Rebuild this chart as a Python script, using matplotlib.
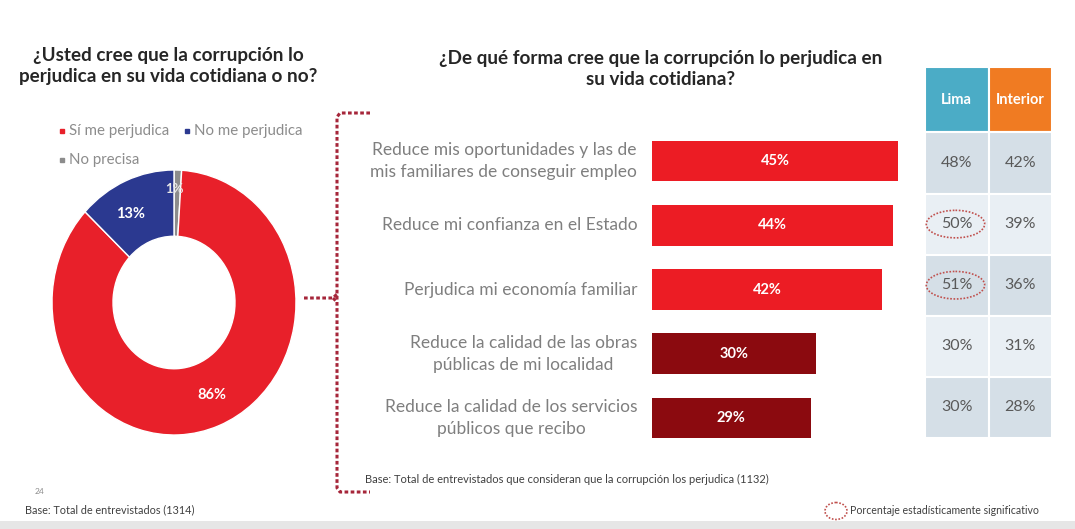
import matplotlib
matplotlib.use("Agg")
import matplotlib.pyplot as plt
from matplotlib.patches import Rectangle, Ellipse

plt.rcParams['font.family'] = ['Lato', 'DejaVu Sans']

# pie data
pie_labels = ['Sí me perjudica', 'No me perjudica', 'No precisa']
pie_values = [86, 13, 1]
pie_colors = ['#E8202A', '#2B3990', '#8C8C8C']

# bar data
categories = [
    'Reduce mis oportunidades y las de\nmis familiares de conseguir empleo',
    'Reduce mi confianza en el Estado',
    'Perjudica mi economía familiar',
    'Reduce la calidad de las obras\npúblicas de mi localidad',
    'Reduce la calidad de los servicios\npúblicos que recibo',
]
totals = [45, 44, 42, 30, 29]
bar_colors = ['#EC1C24', '#EC1C24', '#EC1C24', '#8B0A0F', '#8B0A0F']

# table data
regions = ['Lima', 'Interior']
lima = [48, 50, 51, 30, 30]
interior = [42, 39, 36, 31, 28]
significant = [False, True, True, False, False]

W, H = 1075, 529
fig = plt.figure(figsize=(W / 100, H / 100), dpi=100)


def box(x0, y0, x1, y1):
    # pixel box (top-left origin) -> figure fraction rect
    return [x0 / W, 1 - y1 / H, (x1 - x0) / W, (y1 - y0) / H]


# overlay for texts and decorations
ov = fig.add_axes([0, 0, 1, 1])
ov.set_xlim(0, W)
ov.set_ylim(H, 0)
ov.axis('off')
ov.add_patch(Rectangle((0, 521), W, 10, color='#E6E6E6', lw=0))

ov.text(168, 66, '¿Usted cree que la corrupción lo\nperjudica en su vida cotidiana o no?',
        ha='center', va='center', fontsize=13.6, fontweight='bold', color='#262626',
        linespacing=1.3)
ov.text(661, 69, '¿De qué forma cree que la corrupción lo perjudica en\nsu vida cotidiana?',
        ha='center', va='center', fontsize=13.6, fontweight='bold', color='#262626',
        linespacing=1.3)

# pie legend
leg_pos = [(62, 131), (187, 131), (62, 160)]
for (lx, ly), lab, col in zip(leg_pos, pie_labels, pie_colors):
    ov.plot(lx, ly, 's', ms=3.5, color=col)
    ov.text(lx + 7, ly, lab, ha='left', va='center', fontsize=10.8, color='#8C8C8C')

# bracket
dash = (0, (1.2, 0.8))
bc = '#A6263A'
ov.plot([370, 340, 337, 337, 340, 370], [113, 113, 117, 488, 492, 492],
        color=bc, lw=2.2, ls=dash)
ov.plot([304, 333, 337], [298, 298, 294], color=bc, lw=2.2, ls=dash)
ov.plot([333, 337], [298, 302], color=bc, lw=2.2, ls=dash)

# footnotes
ov.text(35, 492, '24', fontsize=6, color='#8C8C8C', va='center')
ov.text(25, 510, 'Base: Total de entrevistados (1314)', fontsize=7.8, color='#404040', va='center')
ov.text(365, 479, 'Base: Total de entrevistados que consideran que la corrupción los perjudica (1132)',
        fontsize=8, color='#404040', va='center')
ov.add_patch(Ellipse((836, 511), 22, 17, fill=False, ec='#C0504D', lw=1.2, ls=(0, (1, 1))))
ov.text(850, 511, 'Porcentaje estadísticamente significativo', fontsize=7.6,
        color='#404040', va='center')

# donut (slightly taller than wide, as in the slide)
axp = fig.add_axes(box(52, 170, 296, 435))
order = [2, 0, 1]
axp.pie([pie_values[i] for i in order], colors=[pie_colors[i] for i in order],
        startangle=90, counterclock=False,
        wedgeprops=dict(width=0.5, edgecolor='white', linewidth=1))
axp.set_xlim(-1, 1)
axp.set_ylim(-1, 1)
axp.set_aspect('auto')
axp.text(-0.36, 0.67, '13%', ha='center', va='center', color='white', fontsize=10.5, fontweight='bold')
axp.text(0.31, -0.70, '86%', ha='center', va='center', color='white', fontsize=10.5, fontweight='bold')
axp.text(0.0, 0.86, '1%', ha='center', va='center', color='#E8E8E8', fontsize=9.5, fontweight='bold')

# bars
axb = fig.add_axes(box(652, 129, 925.5, 450))
ypos = list(range(len(categories)))
axb.barh(ypos, totals, height=0.63, color=bar_colors)
axb.set_xlim(0, 50)
axb.set_ylim(len(categories) - 0.5, -0.5)
axb.axis('off')
for y, v, lab in zip(ypos, totals, categories):
    axb.text(v / 2, y, f'{v}%', ha='center', va='center', color='white',
             fontsize=10.5, fontweight='bold')
    axb.text(-2.7, y, lab, ha='right', va='center', multialignment='center',
             color='#7F7F7F', fontsize=12.5, linespacing=1.45)

# table
axt = fig.add_axes(box(925, 67, 1052, 438))
axt.set_xlim(0, 2)
axt.set_ylim(5, -1.07)
axt.axis('off')
head_colors = ['#4BACC6', '#F07B22']
for j, (name, hc) in enumerate(zip(regions, head_colors)):
    axt.add_patch(Rectangle((j, -1.07), 1, 1.07, fc=hc, ec='white', lw=1.5))
    axt.text(j + 0.5, -0.53, name, ha='center', va='center', color='white',
             fontsize=10.5, fontweight='bold')
for i, (a, b, sig) in enumerate(zip(lima, interior, significant)):
    fc = '#D5DFE7' if i % 2 == 0 else '#E9EFF4'
    for j, v in enumerate([a, b]):
        axt.add_patch(Rectangle((j, i), 1, 1, fc=fc, ec='white', lw=1.5))
        axt.text(j + 0.5, i + 0.5, f'{v}%', ha='center', va='center',
                 color='#595959', fontsize=11.5)
    if sig:
        axt.add_patch(Ellipse((0.48, i + 0.5), 0.92, 0.45, fill=False, ec='#C0504D',
                              lw=1.2, ls=(0, (1, 1))))

fig.savefig('out.png', dpi=100)
